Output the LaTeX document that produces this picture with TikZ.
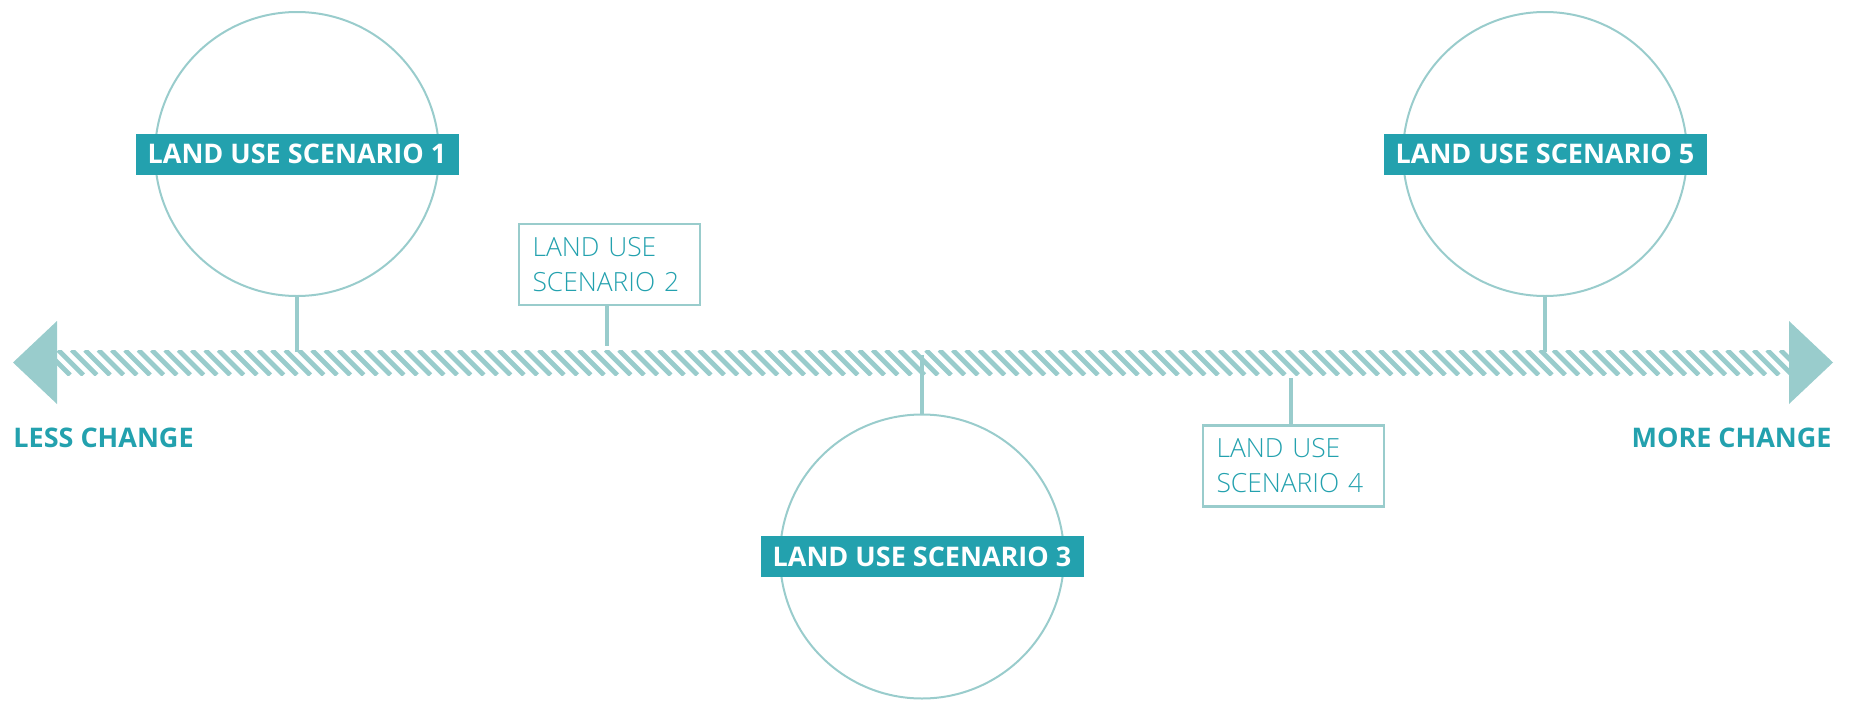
\documentclass[tikz,border=0pt]{standalone}
\usepackage{fontspec}
\setmainfont{Open Sans}
\newfontfamily\lightfont{Open Sans Light}
\definecolor{barteal}{HTML}{99CCCC}
\definecolor{darkteal}{HTML}{23A1AE}
\begin{document}
\begin{tikzpicture}[x=0.5pt,y=-0.5pt,
	ring/.style={circle,draw=barteal,line width=1pt,minimum size=142pt,inner sep=0pt},
	tag/.style={fill=darkteal,text=white,font=\bfseries\fontsize{13.5}{16}\selectfont,minimum width=161.5pt,minimum height=20.5pt,inner sep=0pt},
	note/.style={draw=barteal,line width=1.3pt,text=darkteal,font=\lightfont\fontsize{13.2}{17.5}\selectfont,text width=77pt,inner xsep=6.75pt,align=left,minimum height=40.5pt},
	stem/.style={draw=barteal,line width=2pt},
	side/.style={text=darkteal,font=\bfseries\fontsize{13.5}{16}\selectfont,inner sep=0pt}]
	\useasboundingbox (0,0) rectangle (1849,702);
	% hatched bar
	\begin{scope}
		\clip (57,350) rectangle (1789,375);
		\foreach \i in {0,...,131}{
		\draw[barteal,line width=2.4pt] (45+13.35*\i,350) -- (70+13.35*\i,375);
		};
	\end{scope}
	\fill[barteal] (13,362.5) -- (57,321) -- (57,404) -- cycle;
	\fill[barteal] (1833,362.5) -- (1789,321) -- (1789,404) -- cycle;
	\node[side,anchor=base west] (less) at (13,447) {LESS CHANGE};
	\node[side,anchor=base east] (more) at (1832,447) {MORE CHANGE};

	\node[ring] (c1) at (297,154) {};
	\node[ring] (c3) at (922,556.5) {};
	\node[ring] (c5) at (1545,154) {};
	\node[tag] (t1) at (c1) {LAND USE SCENARIO 1};
	\node[tag] (t3) at (c3) {LAND USE SCENARIO 3};
	\node[tag] (t5) at (c5) {LAND USE SCENARIO 5};
	\node[note] (n2) at (609.5,264.5) {LAND USE\\SCENARIO 2};
	\node[note] (n4) at (1293.5,466) {LAND USE\\SCENARIO 4};

	\coordinate (b1) at (297,352);
	\coordinate (b2) at (607,346);
	\coordinate (b3) at (922,355);
	\coordinate (b4) at (1291,378);
	\coordinate (b5) at (1545,352);
	\draw[stem] (c1.south) -- (b1);
	\draw[stem] (n2.south -| b2) -- (b2);
	\draw[stem] (b3) -- (c3.north);
	\draw[stem] (b4) -- (n4.north -| b4);
	\draw[stem] (c5.south) -- (b5);
\end{tikzpicture}
\end{document}
